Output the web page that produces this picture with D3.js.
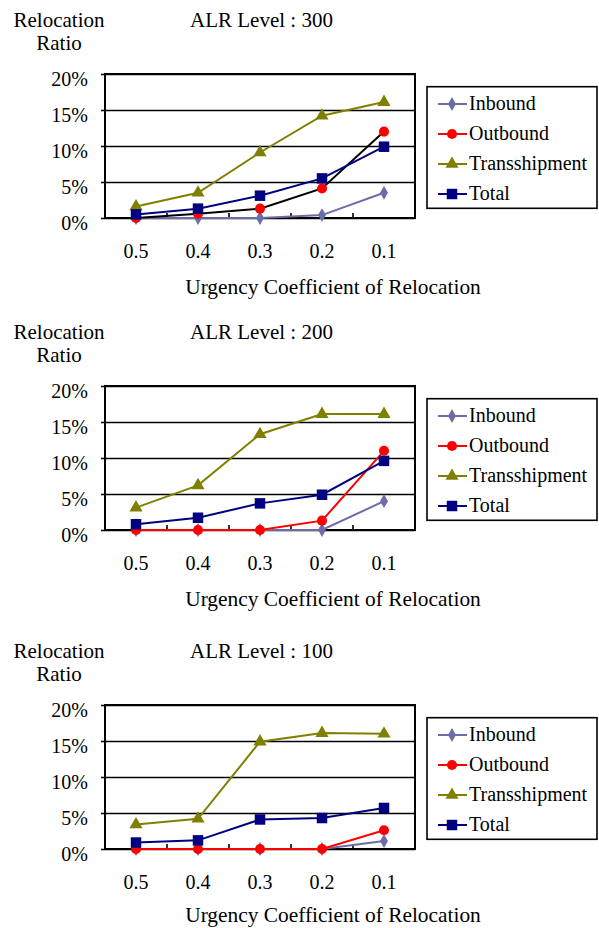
<!DOCTYPE html>
<html>
<head>
<meta charset="utf-8">
<script src="https://cdn.jsdelivr.net/npm/d3@7"></script>
<style>
  html, body { margin: 0; padding: 0; background: #fff; }
  svg { display: block; }
  svg text { font-family: "Liberation Serif", "Times New Roman", "DejaVu Serif", serif; fill: #000; }
</style>
</head>
<body>
<svg id="chart" width="599" height="928"></svg>
<script>
// Urgency coefficient categories along the x axis
const categories = ["0.5", "0.4", "0.3", "0.2", "0.1"];
const yTicks = [0, 5, 10, 15, 20];
const seriesNames = ["Inbound", "Outbound", "Transshipment", "Total"];
const levels = ["300", "200", "100"];

// Relocation ratio (%) by ALR level
const inbound300 = [0, 0, 0, 0.4, 3.5];
const outbound300 = [0, 0.6, 1.3, 4.1, 12.0];
const transship300 = [1.6, 3.5, 9.1, 14.2, 16.1];
const total300 = [0.5, 1.3, 3.1, 5.5, 9.9];

const inbound200 = [0, 0, 0, 0, 4.0];
const outbound200 = [0, 0, 0, 1.3, 11.0];
const transship200 = [3.1, 6.2, 13.3, 16.1, 16.1];
const total200 = [0.8, 1.7, 3.7, 4.9, 9.6];

const inbound100 = [0, 0, 0, 0, 1.1];
const outbound100 = [0, 0, 0, 0, 2.6];
const transship100 = [3.4, 4.2, 14.9, 16.1, 16.0];
const total100 = [0.9, 1.2, 4.1, 4.3, 5.7];

const panelData = [
  [inbound300, outbound300, transship300, total300],
  [inbound200, outbound200, transship200, total200],
  [inbound100, outbound100, transship100, total100]
];

const colors = ["#6C6CA8", "#FF0000", "#808000", "#000080"];
const symbols = [d3.symbolDiamond, d3.symbolCircle, d3.symbolTriangle, d3.symbolSquare];
const symbolSizes = [55, 80, 75, 110];
// The outbound line of the first panel is drawn in black
const lineColors = [
  ["#6C6CA8", "#000000", "#808000", "#000080"],
  colors,
  colors
];

const panelTops = [74, 386, 705];
const plotLeft = 105, plotRight = 415, plotHeight = 144;
const fontSize = 20;
const pageHeight = 928;

const svg = d3.select("#chart");

panelTops.forEach((top, pi) => {
  const g = svg.append("g");
  const x = d3.scaleBand().domain(categories).range([plotLeft, plotRight]).padding(0);
  const y = d3.scaleLinear().domain([0, 20]).range([top + plotHeight, top]);
  const cx = c => x(c) + x.bandwidth() / 2;

  // Gridlines and y tick labels
  const yAxis = g.append("g")
    .attr("transform", `translate(${plotLeft},0)`)
    .call(d3.axisLeft(y).tickValues(yTicks).tickSize(-(plotRight - plotLeft)).tickPadding(17)
      .tickFormat(d => d + "%"))
    .attr("font-family", null).attr("font-size", null);
  yAxis.select(".domain").remove();
  yAxis.selectAll("line").attr("x1", -4).attr("stroke", "#000").attr("stroke-width", 1.6);
  yAxis.selectAll("text").attr("font-size", fontSize).attr("dy", "0.58em");

  // Plot frame
  g.append("rect")
    .attr("x", plotLeft).attr("y", top)
    .attr("width", plotRight - plotLeft).attr("height", plotHeight)
    .attr("fill", "none").attr("stroke", "#000").attr("stroke-width", 2);

  // Category boundary ticks
  g.append("g").selectAll("line")
    .data(categories.slice(1))
    .join("line")
    .attr("x1", d => x(d)).attr("x2", d => x(d))
    .attr("y1", y(0)).attr("y2", y(0) - 5)
    .attr("stroke", "#000").attr("stroke-width", 1.6);

  // x tick labels
  const xAxis = g.append("g")
    .attr("transform", `translate(0,${y(0)})`)
    .call(d3.axisBottom(x).tickSize(0).tickPadding(26))
    .attr("font-family", null).attr("font-size", null);
  xAxis.select(".domain").remove();
  xAxis.selectAll("text").attr("font-size", fontSize);

  // Series lines and markers
  const line = d3.line().x((d, i) => cx(categories[i])).y(d => y(d));
  panelData[pi].forEach((vals, si) => {
    g.append("path")
      .datum(vals)
      .attr("d", line)
      .attr("fill", "none")
      .attr("stroke", lineColors[pi][si])
      .attr("stroke-width", 2);
    g.append("g").selectAll("path")
      .data(vals)
      .join("path")
      .attr("transform", (d, i) => `translate(${cx(categories[i])},${y(d)})`)
      .attr("d", d3.symbol().type(symbols[si]).size(symbolSizes[si]))
      .attr("fill", colors[si]);
  });

  // Titles
  g.append("text").attr("x", 59).attr("y", top - 47).attr("text-anchor", "middle")
    .attr("font-size", 21).text("Relocation");
  g.append("text").attr("x", 59).attr("y", top - 24).attr("text-anchor", "middle")
    .attr("font-size", 21).text("Ratio");
  g.append("text").attr("x", 190).attr("y", top - 47)
    .attr("font-size", 21).text("ALR Level : " + levels[pi]);
  // Keep the last axis title's descenders on the page
  g.append("text").attr("x", 333).attr("y", Math.min(y(0) + 76, pageHeight - 6))
    .attr("text-anchor", "middle")
    .attr("font-size", 21.4).text("Urgency Coefficient of Relocation");

  // Legend
  const legTop = top + 12.7;
  const lg = g.append("g");
  lg.append("rect")
    .attr("x", 427).attr("y", legTop)
    .attr("width", 170).attr("height", 121.6)
    .attr("fill", "#fff").attr("stroke", "#000").attr("stroke-width", 1.6);
  const ly = d3.scalePoint().domain(seriesNames).range([legTop + 17.3, legTop + 107.3]);
  seriesNames.forEach((name, si) => {
    const yy = ly(name);
    lg.append("line").attr("x1", 438).attr("x2", 467).attr("y1", yy).attr("y2", yy)
      .attr("stroke", colors[si]).attr("stroke-width", 2);
    lg.append("path").attr("transform", `translate(452,${yy})`)
      .attr("d", d3.symbol().type(symbols[si]).size(symbolSizes[si]))
      .attr("fill", colors[si]);
    lg.append("text").attr("x", 469).attr("y", yy + 5.5)
      .attr("font-size", fontSize).text(name);
  });
});
</script>
</body>
</html>
